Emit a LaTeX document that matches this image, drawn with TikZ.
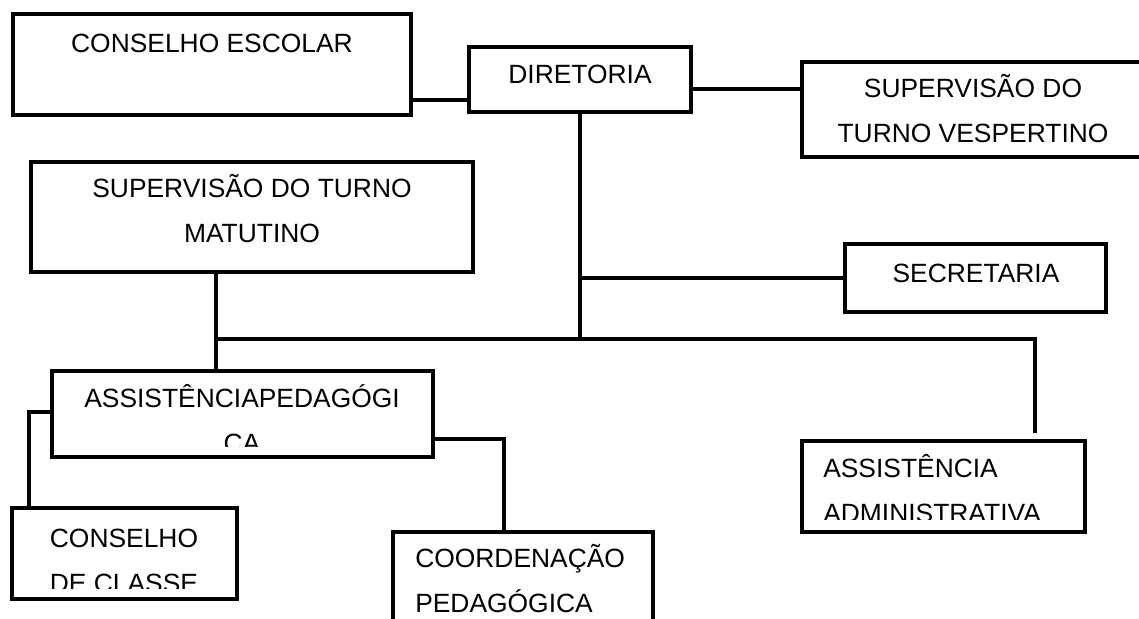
\documentclass[tikz,border=0pt]{standalone}
\usepackage{fontspec}
\setmainfont{Liberation Sans}
\usetikzlibrary{fit}
\usetikzlibrary{positioning}

\begin{document}
\begin{tikzpicture}[x=0.75pt,y=-0.75pt,
  box/.style={draw=black,line width=3pt,inner sep=0pt},
  link/.style={draw=black,line width=2.3pt},
  lbl/.style={font=\fontsize{19.8pt}{33.75pt}\selectfont,inner sep=0pt,align=center,anchor=base}]
\useasboundingbox (0,0) rectangle (1139,618);

% boxes
\node[box,fit={(13,14) (411,115)}] (esc) {};
\node[box,fit={(469,47) (691,112)}] (dir) {};
\node[box,fit={(802,62) (1144,157)}] (vesp) {};
\node[box,fit={(31,162) (473,272)}] (mat) {};
\node[box,fit={(845,244) (1106,312)}] (sec) {};
\node[box,fit={(52,371) (433,457)}] (ped) {};
\node[box,fit={(802,441) (1085,532)}] (adm) {};
\node[box,fit={(12,508) (237,599)}] (cls) {};
\node[box,fit={(393,532) (653,660)}] (coo) {};

% connectors
\coordinate (bus) at (216,339);
\coordinate (admtap) at (1035,433);
\draw[link] (esc.east |- 0,100) -- (dir.west |- 0,100);
\draw[link] (dir.east |- 0,89) -- (vesp.west |- 0,89);
\draw[link] (dir.south) -- (dir.south |- bus);
\draw[link] (dir.south |- sec.west) -- (sec.west);
\draw[link] (bus) -| (admtap);
\draw[link] (mat.south -| bus) -- (ped.north -| bus);
\draw[link] (ped.west |- 0,412) -| (cls.north -| 29,0);
\draw[link] (ped.east |- 0,439) -| (coo.north -| 504,0);

% texts (two-line labels sit on the baseline of their last line)
\node[lbl] (escT) at (212,52) {CONSELHO ESCOLAR};
\node[lbl] (dirT) at (580,83) {DIRETORIA};
\node[lbl] (vespT) at (973,142) {SUPERVISÃO DO\\TURNO VESPERTINO};
\node[lbl] (matT) at (252,242) {SUPERVISÃO DO TURNO\\MATUTINO};
\node[lbl] (secT) at (976,282) {SECRETARIA};
\begin{scope}
\clip (52,371) rectangle (433,446);
\node[lbl] (pedT) at (242,452) {ASSISTÊNCIAPEDAGÓGI\\CA};
\end{scope}
\begin{scope}
\clip (12,508) rectangle (237,588);
\node[lbl] (clsT) at (124,592) {CONSELHO\\DE CLASSE};
\end{scope}
\begin{scope}
\clip (802,441) rectangle (1085,519);
\node[lbl,align=left,anchor=base west] (admT) at (823,522) {ASSISTÊNCIA\\ADMINISTRATIVA};
\end{scope}
\begin{scope}
\clip (393,532) rectangle (653,613);
\node[lbl,align=left,anchor=base west] (cooT) at (415,612) {COORDENAÇÃO\\PEDAGÓGICA};
\end{scope}

\end{tikzpicture}
\end{document}
